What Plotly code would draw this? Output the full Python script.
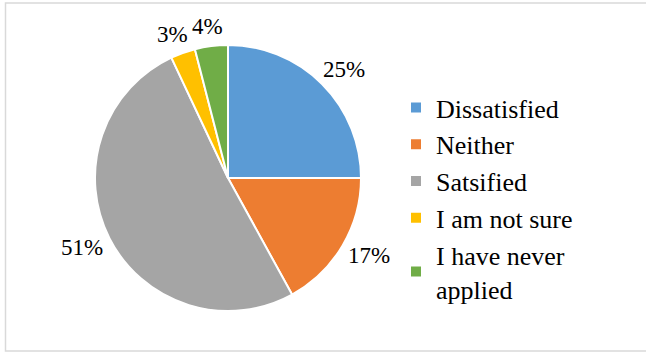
import math
import plotly.graph_objects as go

# Survey responses (percent of respondents)
categories = ["Dissatisfied", "Neither", "Satsified", "I am not sure", "I have never applied"]
legend_names = ["Dissatisfied", "Neither", "Satsified", "I am not sure", "I have never<br>applied"]
values = [25, 17, 51, 3, 4]
colors = ["#5B9BD5", "#ED7D31", "#A5A5A5", "#FFC000", "#70AD47"]

W, H = 646, 352
FONT = "Liberation Serif"

# Pie placement in pixels
pie_left, pie_right = 95, 361
pie_top, pie_bottom = 45, 311
cx = (pie_left + pie_right) / 2
cy = (pie_top + pie_bottom) / 2
radius = min(pie_right - pie_left, pie_bottom - pie_top) / 2

fig = go.Figure(
    go.Pie(
        labels=legend_names,
        values=values,
        sort=False,
        direction="clockwise",
        rotation=0,
        marker=dict(colors=colors, line=dict(color="white", width=2)),
        textinfo="none",
        hoverinfo="label+percent",
        domain=dict(x=[pie_left / W, pie_right / W], y=[1 - pie_bottom / H, 1 - pie_top / H]),
    )
)

# Percentage labels outside each slice: anchor point on the slice's mid angle,
# label box pushed outward by half its size in that direction
total = sum(values)
label_w, label_h, gap = 42, 20, 10
cum = 0
for v in values:
    mid = (cum + v / 2) / total * 2 * math.pi  # clockwise from 12 o'clock
    cum += v
    sx, sy = math.sin(mid), -math.cos(mid)
    px = cx + sx * (radius + gap) + sx * label_w / 2
    py = cy + sy * (radius + gap) + sy * label_h / 2
    fig.add_annotation(
        x=px / W, y=1 - py / H, xref="paper", yref="paper",
        text=f"{round(v / total * 100)}%", showarrow=False,
        xanchor="center", yanchor="middle",
        font=dict(family=FONT, size=23, color="#000000"),
    )

# Chart frame
fig.add_shape(
    type="rect", xref="paper", yref="paper",
    x0=5.5 / W, x1=(W + 2) / W, y0=1 - 351 / H, y1=1 - 3 / H,
    line=dict(color="#D9D9D9", width=1.5), fillcolor="rgba(0,0,0,0)", layer="below",
)

fig.update_layout(
    width=W, height=H,
    margin=dict(l=0, r=0, t=0, b=0),
    paper_bgcolor="white", plot_bgcolor="white",
    font=dict(family=FONT),
    showlegend=True,
    legend=dict(
        x=396 / W, y=1 - 84 / H, xanchor="left", yanchor="top",
        font=dict(family=FONT, size=26, color="#000000"),
        bgcolor="rgba(0,0,0,0)", tracegroupgap=0,
    ),
)

fig.write_html("out.html")
